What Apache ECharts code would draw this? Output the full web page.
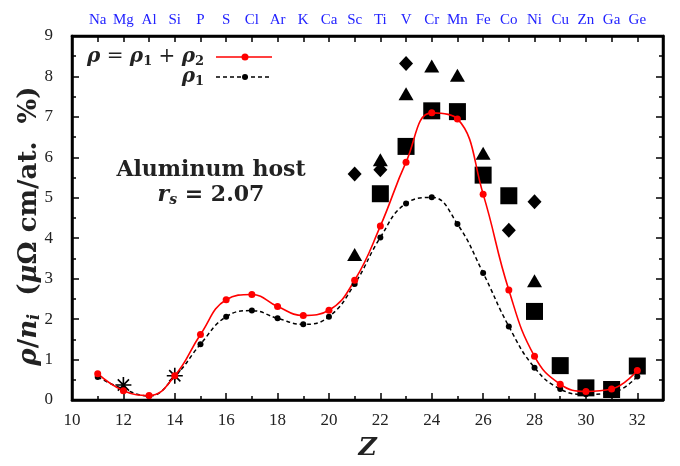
<!DOCTYPE html>
<html><head><meta charset="utf-8">
<script src="https://cdn.jsdelivr.net/npm/echarts@6/dist/echarts.min.js"></script>
<style>html,body{margin:0;padding:0;background:#fff}#c{width:680px;height:466px}</style>
</head><body><div id="c"></div>
<script>
// ---- data ----
const Z = [11,12,13,14,15,16,17,18,19,20,21,22,23,24,25,26,27,28,29,30,31,32];
const elements = ['Na','Mg','Al','Si','P','S','Cl','Ar','K','Ca','Sc','Ti','V','Cr','Mn','Fe','Co','Ni','Cu','Zn','Ga','Ge'];
const rhoTotal = [0.65,0.23,0.11,0.60,1.62,2.48,2.61,2.31,2.09,2.22,2.96,4.30,5.88,7.10,6.95,5.09,2.72,1.08,0.39,0.21,0.27,0.73];
const rho1     = [0.57,0.27,0.10,0.58,1.38,2.06,2.21,2.02,1.87,2.06,2.87,4.02,4.86,5.01,4.35,3.14,1.82,0.80,0.27,0.14,0.18,0.58];
const squareZ = [22,23,24,25,26,27,28,29,30,31,32];
const squareV = [5.10,6.27,7.15,7.13,5.56,5.05,2.19,0.85,0.30,0.26,0.84];
const triZ = [21,22,23,24,25,26,28];
const triV = [3.60,5.94,7.57,8.26,8.03,6.10,2.95];
const diaZ = [21,22,23,27,28];
const diaV = [5.59,5.69,8.32,4.20,4.90];
const starZ = [12,14];
const starV = [0.37,0.60];
const xTicks = [10,12,14,16,18,20,22,24,26,28,30,32];
const yTicks = [0,1,2,3,4,5,6,7,8,9];

const pair = (xs, ys) => xs.map((x, i) => [x, ys[i]]);
const F = 'Liberation Serif';
const B = 'DejaVu Serif';
const chart = echarts.init(document.getElementById('c'), null, {renderer: 'canvas'});

const commonAxis = {
  axisLine: {show: true, onZero: false, lineStyle: {color: '#000', width: 2.5}},
  splitLine: {show: false}
};
const solid = {color: '#000', opacity: 1};

chart.setOption({
  animation: false,
  backgroundColor: '#fff',
  grid: {left: 72, right: 17, top: 36, bottom: 58, show: true, borderColor: '#000', borderWidth: 2.5},
  xAxis: [
    Object.assign({}, commonAxis, {
      type: 'value', min: 10, max: 33, interval: 2, position: 'bottom',
      axisTick: {inside: true, length: 7, lineStyle: {color: '#000', width: 1.5}},
      minorTick: {show: true, splitNumber: 2, length: 4, lineStyle: {color: '#000', width: 1.5}},
      axisLabel: {fontFamily: F, fontSize: 17, color: '#222', margin: 12,
        formatter: v => xTicks.indexOf(v) >= 0 ? String(v) : ''},
      name: 'Z', nameLocation: 'middle', nameGap: 36,
      nameTextStyle: {fontFamily: B, fontStyle: 'italic', fontWeight: 'bold', fontSize: 25, color: '#222'}
    }),
    Object.assign({}, commonAxis, {
      type: 'value', min: 10, max: 33, interval: 1, position: 'top',
      axisTick: {inside: true, length: 6, lineStyle: {color: '#000', width: 1.5}},
      axisLabel: {fontFamily: F, fontSize: 15, color: '#2222ff', margin: 8,
        formatter: v => (v >= 11 && v <= 32) ? elements[v - 11] : ''}
    })
  ],
  yAxis: [
    Object.assign({}, commonAxis, {
      type: 'value', min: 0, max: 9, interval: 1, position: 'left',
      axisTick: {inside: true, length: 7, lineStyle: {color: '#000', width: 1.5}},
      minorTick: {show: true, splitNumber: 2, length: 4, lineStyle: {color: '#000', width: 1.5}},
      axisLabel: {fontFamily: F, fontSize: 17, color: '#222', margin: 19,
        formatter: v => yTicks.indexOf(v) >= 0 ? String(v) : ''}
    }),
    Object.assign({}, commonAxis, {
      type: 'value', min: 0, max: 9, interval: 1, position: 'right',
      axisTick: {inside: true, length: 7, lineStyle: {color: '#000', width: 1.5}},
      minorTick: {show: true, splitNumber: 2, length: 4, lineStyle: {color: '#000', width: 1.5}},
      axisLabel: {show: false}
    })
  ],
  series: [
    {type: 'scatter', name: 'square', data: pair(squareZ, squareV), symbol: 'rect', symbolSize: 17,
      itemStyle: solid, silent: true},
    {type: 'scatter', name: 'tri', data: pair(triZ, triV), symbol: 'triangle', symbolSize: [15, 13],
      itemStyle: solid, silent: true},
    {type: 'scatter', name: 'dia', data: pair(diaZ, diaV), symbol: 'diamond', symbolSize: [14, 15],
      itemStyle: solid, silent: true},
    {type: 'scatter', name: 'star', data: pair(starZ, starV),
      symbol: 'path://M0,-10L0,10M-10,0L10,0M-7,-7L7,7M-7,7L7,-7', symbolSize: 16,
      itemStyle: {color: 'none', borderColor: '#000', borderWidth: 1.6, opacity: 1}, silent: true},
    {type: 'line', name: 'rho1', data: pair(Z, rho1), smooth: 0.45,
      symbol: 'circle', symbolSize: 6, showAllSymbol: true,
      lineStyle: {color: '#000', width: 1.5, type: [4, 3]}, itemStyle: {color: '#000'}, silent: true},
    {type: 'line', name: 'rho', data: pair(Z, rhoTotal), smooth: 0.45,
      symbol: 'circle', symbolSize: 7, showAllSymbol: true,
      lineStyle: {color: '#ff0000', width: 1.6}, itemStyle: {color: '#ff0000'}, silent: true}
  ],
  graphic: [
    // legend
    {type: 'text', x: 204, y: 57, style: {
      text: '{m|ρ}{r| = }{m|ρ}{s|1}{r| + }{m|ρ}{s|2}', align: 'right', verticalAlign: 'middle',
      rich: {
        m: {fontFamily: B, fontStyle: 'italic', fontWeight: 'bold', fontSize: 20, fill: '#222'},
        r: {fontFamily: B, fontSize: 20, fill: '#222'},
        s: {fontFamily: B, fontWeight: 'bold', fontSize: 13, fill: '#222', padding: [9, 0, 0, 0]}
      }}},
    {type: 'line', shape: {x1: 216, y1: 57, x2: 272, y2: 57}, style: {stroke: '#ff0000', lineWidth: 1.6}},
    {type: 'circle', shape: {cx: 245, cy: 57, r: 3.5}, style: {fill: '#ff0000'}},
    {type: 'text', x: 204, y: 77, style: {
      text: '{m|ρ}{s|1}', align: 'right', verticalAlign: 'middle',
      rich: {
        m: {fontFamily: B, fontStyle: 'italic', fontWeight: 'bold', fontSize: 20, fill: '#222'},
        s: {fontFamily: B, fontWeight: 'bold', fontSize: 13, fill: '#222', padding: [9, 0, 0, 0]}
      }}},
    {type: 'line', shape: {x1: 216, y1: 77, x2: 272, y2: 77}, style: {stroke: '#000', lineWidth: 1.4, lineDash: [4, 3]}},
    {type: 'circle', shape: {cx: 245, cy: 77, r: 3}, style: {fill: '#000'}},
    // annotation
    {type: 'text', x: 211, y: 170, style: {
      text: 'Aluminum host', align: 'center', verticalAlign: 'middle',
      fontFamily: B, fontWeight: 'bold', fontSize: 22, fill: '#222'}},
    {type: 'text', x: 211, y: 195, style: {
      text: '{m|r}{s|s}{r| = 2.07}', align: 'center', verticalAlign: 'middle',
      rich: {
        m: {fontFamily: B, fontStyle: 'italic', fontWeight: 'bold', fontSize: 22, fill: '#222'},
        r: {fontFamily: B, fontWeight: 'bold', fontSize: 22, fill: '#222'},
        s: {fontFamily: B, fontStyle: 'italic', fontWeight: 'bold', fontSize: 14, fill: '#222', padding: [10, 0, 0, 0]}
      }}},
    // y axis title
    {type: 'text', x: 29, y: 226, rotation: Math.PI / 2, style: {
      text: '{m|ρ}{r|/}{m|n}{s|i}{r|  (}{m|μ}{r|Ω cm/at.  %)}', align: 'center', verticalAlign: 'middle',
      rich: {
        m: {fontFamily: B, fontStyle: 'italic', fontWeight: 'bold', fontSize: 26, fill: '#222'},
        r: {fontFamily: B, fontWeight: 'bold', fontSize: 26, fill: '#222'},
        s: {fontFamily: B, fontStyle: 'italic', fontWeight: 'bold', fontSize: 16, fill: '#222', padding: [11, 0, 0, 0]}
      }}}
  ]
});
</script></body></html>
